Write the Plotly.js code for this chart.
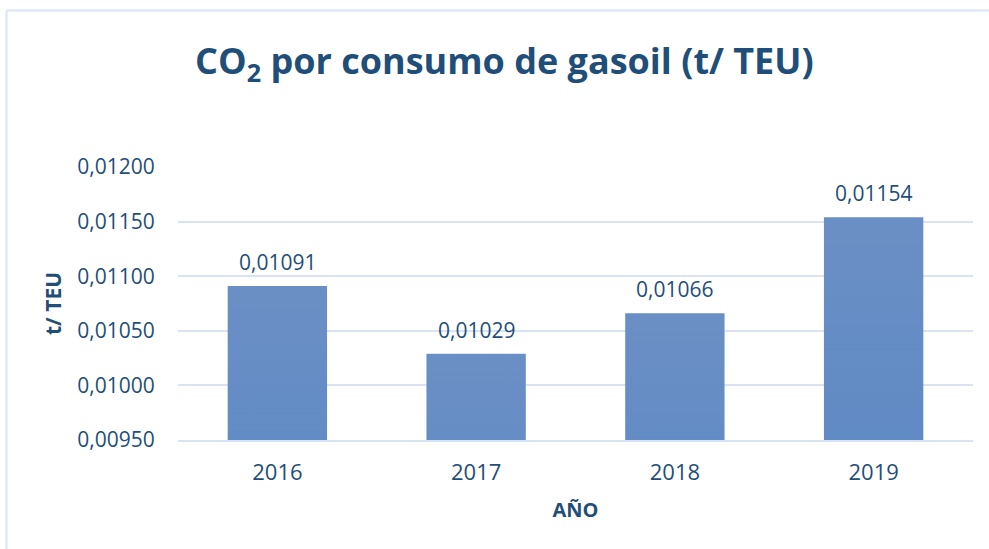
<!DOCTYPE html>
<html>
<head>
<meta charset="utf-8">
<script src="https://cdn.plot.ly/plotly-3.0.1.min.js"></script>
<style>
  html, body { margin: 0; padding: 0; background: #ffffff; }
  #chart { width: 989px; height: 549px; }
  #gradsvg { position: absolute; width: 0; height: 0; }
</style>
</head>
<body>
<svg id="gradsvg" aria-hidden="true">
  <defs>
    <linearGradient id="barGrad" x1="0" y1="0" x2="0" y2="1">
      <stop offset="0%" stop-color="#6A8FC5"/>
      <stop offset="50%" stop-color="#4F82C3"/>
      <stop offset="100%" stop-color="#3A6EAF"/>
    </linearGradient>
  </defs>
</svg>
<div id="chart"></div>
<script>
// ---- data ----
const years = [2016, 2017, 2018, 2019];
const yearLabels = ['2016', '2017', '2018', '2019'];
const values = [0.01091, 0.01029, 0.01066, 0.01154];
const yTicks = [0.00950, 0.01000, 0.01050, 0.01100, 0.01150, 0.01200];

const fmt = v => v.toFixed(5).replace('.', ',');
const labelColor = '#1F4E79';
const gridColor = '#D9E3F2';

const trace = {
  type: 'bar',
  x: years,
  y: values,
  width: 0.5,
  marker: { color: '#4F83C3', line: { width: 0 } },
  hoverinfo: 'none'
};

const annotations = years.map((yr, i) => ({
  x: yr, y: values[i], xref: 'x', yref: 'y',
  text: fmt(values[i]), showarrow: false,
  yanchor: 'bottom', yshift: 8,
  font: { family: 'Open Sans, sans-serif', size: 21, color: labelColor }
}));

const shapes = [
  { type: 'line', xref: 'paper', yref: 'paper', x0: -0.2157, x1: 1.03, y0: 1.5733, y1: 1.5733,
    line: { color: '#DAE3F3', width: 2 } },
  { type: 'line', xref: 'paper', yref: 'paper', x0: -0.2157, x1: -0.2157, y0: 1.5733, y1: -0.45,
    line: { color: '#DAE3F3', width: 2 } }
];

const layout = {
  width: 989, height: 549,
  margin: { l: 178, r: 16, t: 167, b: 109, pad: 0 },
  paper_bgcolor: '#ffffff', plot_bgcolor: '#ffffff',
  separators: ',.',
  showlegend: false,
  title: {
    text: 'CO<sub>2</sub> por consumo de gasoil (t/ TEU)',
    font: { family: 'Open Sans, sans-serif', size: 36, color: labelColor, weight: 'bold' },
    x: 0.51, xanchor: 'center', xref: 'container',
    y: 0.888, yanchor: 'middle', yref: 'container'
  },
  xaxis: {
    type: 'linear',
    range: [2015.5, 2019.5],
    tickvals: years, ticktext: yearLabels,
    ticks: 'outside', ticklen: 12, tickcolor: 'rgba(0,0,0,0)',
    tickfont: { family: 'Open Sans, sans-serif', size: 22, color: labelColor },
    showgrid: false, zeroline: false,
    showline: true, linecolor: gridColor, linewidth: 2,
    title: { text: '<b>AÑO</b>', standoff: 18,
      font: { family: 'Open Sans, sans-serif', size: 20, color: labelColor } }
  },
  yaxis: {
    type: 'linear',
    range: [0.0095, 0.0120001],
    tickvals: yTicks,
    ticktext: yTicks.map(fmt),
    ticks: 'outside', ticklen: 18, tickcolor: 'rgba(0,0,0,0)',
    tickfont: { family: 'Open Sans, sans-serif', size: 21, color: labelColor },
    showgrid: true, gridcolor: gridColor, gridwidth: 2,
    zeroline: false, showline: false,
    title: { text: '<b>t/ TEU</b>', standoff: 9,
      font: { family: 'Open Sans, sans-serif', size: 21, color: labelColor } }
  },
  annotations: annotations,
  shapes: shapes
};

function applyGradient(gd) {
  gd.querySelectorAll('.bars .point path').forEach(p => { p.style.fill = 'url(#barGrad)'; });
}

Plotly.newPlot('chart', [trace], layout, { staticPlot: true, displayModeBar: false }).then(gd => {
  applyGradient(gd);
  gd.on('plotly_afterplot', () => applyGradient(gd));
  [50, 200, 600, 1200].forEach(t => setTimeout(() => applyGradient(gd), t));
});
</script>
</body>
</html>
